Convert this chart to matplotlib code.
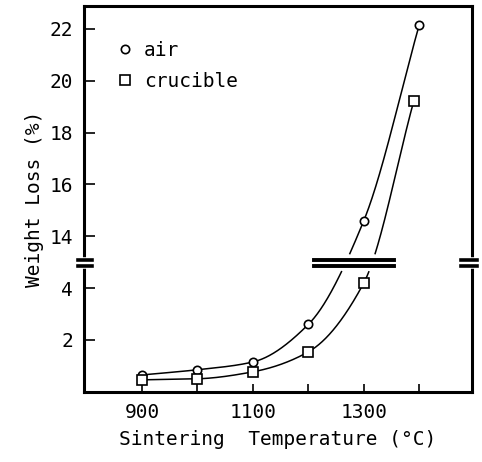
import numpy as np
import matplotlib
matplotlib.use('Agg')
import matplotlib.pyplot as plt

# data
temp_air = [900, 1000, 1100, 1200, 1300, 1400]
loss_air = [0.65, 0.85, 1.15, 2.6, 14.6, 22.15]
temp_cru = [900, 1000, 1100, 1200, 1300, 1390]
loss_cru = [0.46, 0.5, 0.77, 1.54, 4.2, 19.2]

lo_ticks = [2, 4]
hi_ticks = [14, 16, 18, 20, 22]
x_ticks = [900, 1000, 1100, 1200, 1300, 1400]
x_labels = ['900', '', '1100', '', '1300', '']

# broken axis: 4.8 .. 13 squeezed into a small gap
B1, B2, SHIFT = 4.8, 13.0, 8.0

def fwd(y):
    y = np.asarray(y, dtype=float)
    mid = B1 + (y - B1) * ((B2 - SHIFT) - B1) / (B2 - B1)
    return np.where(y <= B1, y, np.where(y >= B2, y - SHIFT, mid))

def inv(v):
    v = np.asarray(v, dtype=float)
    top = B2 - SHIFT
    mid = B1 + (v - B1) * (B2 - B1) / (top - B1)
    return np.where(v <= B1, v, np.where(v >= top, v + SHIFT, mid))

def pchip(x, y, xs):
    x = np.asarray(x, float); y = np.asarray(y, float)
    h = np.diff(x); d = np.diff(y) / h
    m = np.zeros_like(y)
    m[0], m[-1] = d[0], d[-1]
    for k in range(1, len(x) - 1):
        if d[k-1] * d[k] > 0:
            w1 = 2*h[k] + h[k-1]
            w2 = h[k] + 2*h[k-1]
            m[k] = (w1 + w2) / (w1/d[k-1] + w2/d[k])
    i = np.clip(np.searchsorted(x, xs) - 1, 0, len(x) - 2)
    t = (xs - x[i]) / h[i]
    h00 = 2*t**3 - 3*t**2 + 1
    h10 = t**3 - 2*t**2 + t
    h01 = -2*t**3 + 3*t**2
    h11 = t**3 - t**2
    return h00*y[i] + h10*h[i]*m[i] + h01*y[i+1] + h11*h[i]*m[i+1]

plt.rcParams['font.family'] = 'DejaVu Sans Mono'
plt.rcParams['font.size'] = 14

fig = plt.figure(figsize=(4.82, 4.62), dpi=100)
ax = fig.add_axes([0.174, 0.152, 0.805, 0.835])
ax.set_yscale('function', functions=(fwd, inv))

for tx, ty, mk, ms, lab in [(temp_air, loss_air, 'o', 6, 'air'),
                            (temp_cru, loss_cru, 's', 7, 'crucible')]:
    xs = np.linspace(tx[0], tx[-1], 600)
    yd = pchip(tx, fwd(ty), xs)
    yd = np.where((yd > 4.65) & (yd < 5.3), np.nan, yd)
    ax.plot(xs, inv(yd), color='black', lw=1.1)
    ax.plot(tx, ty, mk, ms=ms, mfc='white', mec='black', mew=1.2, ls='none', zorder=3)
    ax.plot([], [], mk, ms=ms, mfc='white', mec='black', mew=1.2, ls='none', label=lab)

ax.set_xlim(795, 1495)
ax.set_ylim(0, inv(14.88))
ax.set_yticks(lo_ticks + hi_ticks)
ax.set_yticklabels([str(v) for v in lo_ticks + hi_ticks])
ax.set_xticks(x_ticks)
ax.set_xticklabels(x_labels)
ax.tick_params(direction='in', length=8, width=1.2, pad=8)
ax.tick_params(axis='x', length=6)

for s in ax.spines.values():
    s.set_linewidth(2.2)

# break markers
yb = [float(inv(4.85)), float(inv(5.1))]
ax.plot([0, 0], yb, color='white', lw=4, transform=ax.get_yaxis_transform(), clip_on=False, zorder=5)
ax.plot([1, 1], yb, color='white', lw=4, transform=ax.get_yaxis_transform(), clip_on=False, zorder=5)
for yy in yb:
    ax.plot([-0.016, 0.022], [yy, yy], color='black', lw=2.6,
            transform=ax.get_yaxis_transform(), clip_on=False, zorder=6)
    ax.plot([0.972, 1.012], [yy, yy], color='black', lw=2.6,
            transform=ax.get_yaxis_transform(), clip_on=False, zorder=6)
    ax.plot([1210, 1354], [yy, yy], color='black', lw=2.8, zorder=4)

ax.legend(loc='upper left', frameon=False, handletextpad=0.5,
          handlelength=1.0, borderaxespad=0.6, labelspacing=0.6,
          bbox_to_anchor=(0.03, 0.96))

ax.set_xlabel('Sintering  Temperature (°C)', labelpad=6)
ax.set_ylabel('Weight Loss (%)', labelpad=4)

fig.savefig('out.png', dpi=100)
